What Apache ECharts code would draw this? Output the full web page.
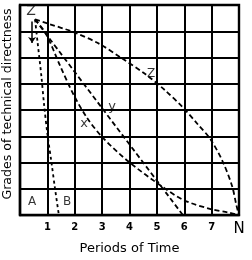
<!DOCTYPE html>
<html>
<head>
<meta charset="utf-8">
<script src="https://cdn.jsdelivr.net/npm/echarts@6/dist/echarts.min.js"></script>
<style>
  html, body { margin: 0; background: #fff; }
  #chart { width: 252px; height: 260px; }
</style>
</head>
<body>
<div id="chart"></div>
<script>
// tick labels on the time axis (0 left blank, last one is N)
var xTickLabels = ['', '1', '2', '3', '4', '5', '6', '7', 'N'];

// curves as [period, grade]
var curveZ = [[0.55, 7.45], [1.0, 7.3], [2.0, 6.95], [2.9, 6.52], [3.75, 5.95], [4.6, 5.35],
  [5.3, 4.75], [5.95, 4.1], [6.5, 3.45], [6.95, 2.9], [7.4, 2.05], [7.75, 1.1], [7.9, 0.4], [8, 0]];
var curveY = [[0.55, 7.45], [5.95, 0]];
var curveX = [[0.55, 7.45], [0.95, 6.9], [1.46, 5.7], [1.95, 4.6], [2.45, 3.7], [3.03, 2.94],
  [3.95, 2.05], [5.2, 1.08], [6.0, 0.56], [7.0, 0.22], [7.6, 0.1], [8, 0]];
var curveAB = [[0.55, 7.45], [0.64, 6.6], [0.78, 5.3], [0.88, 4.2], [1.0, 3.1], [1.15, 2.0],
  [1.28, 1.0], [1.42, 0]];

// letters written on the chart
var letters = [['Z', 0.4, 7.74, 14], ['x', 2.34, 3.5, 13], ['y', 3.36, 4.13, 13],
  ['Z', 4.79, 5.38, 12], ['A', 0.44, 0.52, 12], ['B', 1.72, 0.52, 12]];
var arrow = [[0.44, 7.37], [0.44, 6.55]];

var ink = '#000';
var font = 'DejaVu Sans';

var myChart = echarts.init(document.getElementById('chart'));

function curve(data, dash) {
  return {
    type: 'line',
    data: data,
    symbol: 'none',
    smooth: 0.3,
    silent: true,
    lineStyle: { color: ink, width: 1.8, type: dash }
  };
}

var option = {
  animation: false,
  grid: { left: 20, right: 13, top: 5, bottom: 38, show: true, borderColor: ink, borderWidth: 2.4 },
  xAxis: {
    type: 'value', min: 0, max: 8, interval: 1,
    axisLine: { lineStyle: { color: ink, width: 2.4 } },
    axisTick: { show: false },
    splitLine: { lineStyle: { color: ink, width: 2 } },
    axisLabel: {
      showMinLabel: false, showMaxLabel: true, margin: 7,
      color: ink, fontSize: 10, fontWeight: 'bold', fontFamily: font,
      formatter: function (v) {
        var t = xTickLabels[Math.round(v)];
        return t === 'N' ? '{n|N}' : t;
      },
      rich: { n: { fontSize: 15, fontWeight: 'normal', fontFamily: font, color: ink } }
    },
    name: 'Periods of Time', nameLocation: 'middle', nameGap: 18,
    nameTextStyle: { color: ink, fontSize: 13, fontFamily: font }
  },
  yAxis: {
    type: 'value', min: 0, max: 8, interval: 1,
    axisLine: { show: true, lineStyle: { color: ink, width: 2.4 } },
    axisTick: { show: false },
    axisLabel: { show: false },
    splitLine: { lineStyle: { color: ink, width: 2 } }
  },
  graphic: [{
    type: 'text', x: 8, y: 104, rotation: Math.PI / 2,
    style: { text: 'Grades of technical directness', fill: ink, font: '12.6px "DejaVu Sans"',
      textAlign: 'center', textVerticalAlign: 'middle' }
  }],
  series: [
    curve(curveZ, [5, 3]),
    curve(curveY, [5, 3]),
    curve(curveX, [5, 3]),
    curve(curveAB, [3, 3]),
    {
      type: 'lines', coordinateSystem: 'cartesian2d', silent: true,
      symbol: ['none', 'arrow'], symbolSize: 6,
      lineStyle: { color: ink, width: 1.5, opacity: 1 },
      data: [{ coords: arrow }]
    },
    {
      type: 'scatter', symbolSize: 0, silent: true,
      data: letters.map(function (l) {
        return {
          value: [l[1], l[2]],
          label: { show: true, position: 'inside', formatter: l[0], color: ink,
            fontSize: l[3], fontFamily: font }
        };
      })
    }
  ]
};

myChart.setOption(option);
</script>
</body>
</html>
